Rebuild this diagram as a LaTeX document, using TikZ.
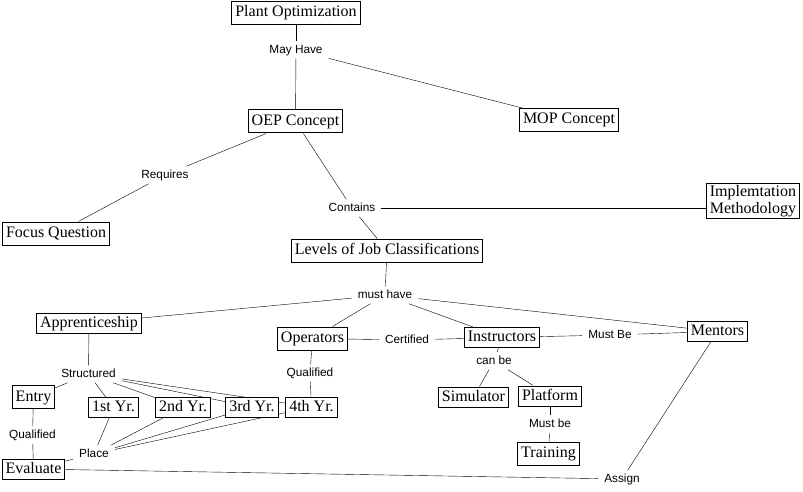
\documentclass[tikz,border=0pt]{standalone}
\usepackage{fontspec}
\setmainfont{Liberation Serif}
\newfontfamily\linkfont{Liberation Sans}
\usetikzlibrary{backgrounds}
\tikzset{
	concept/.style={draw, fill=white, line width=1pt, font=\fontsize{16}{16.5}\selectfont,
		inner xsep=3.5pt, inner ysep=4pt, text height=11.5pt, text depth=3.5pt},
	slim/.style={concept, inner ysep=2.5pt},
	link/.style={font=\linkfont\fontsize{11.8}{14}\selectfont, inner xsep=6pt, inner ysep=3pt,
		text height=8.6pt, text depth=2.5pt},
	conn/.style={line width=1pt}
}

\begin{document}
\begin{tikzpicture}[x=1pt, y=-1pt]
	%%%%% START %%%%%
	\useasboundingbox (0, 0) rectangle (803, 492);
	
	\node[concept] (plant) at (296, 13) {Plant Optimization};
	\node[link] (mayhave) at (296, 50) {May Have};
	\node[concept] (oep) at (295.5, 121.5) {OEP Concept};
	\node[concept] (mop) at (569, 120) {MOP Concept};
	
	\node[link] (requires) at (165, 175) {Requires};
	\node[concept] (focus) at (56, 233.5) {Focus Question};
	\node[link] (contains) at (352, 208) {Contains};
	\node[concept, align=center, text height={}, text depth={}, inner ysep=2pt] (impl) at (753, 201) {Implemtation\\Methodology};
	\node[concept] (levels) at (387, 250.5) {Levels of Job Classifications};
	
	\node[link] (musthave) at (385, 295) {must have};
	\node[slim] (appr) at (89, 323) {Apprenticeship};
	\node[concept] (ops) at (312.5, 338.5) {Operators};
	\node[link] (certified) at (407, 340) {Certified};
	\node[slim] (instr) at (502, 337.5) {Instructors};
	\node[link] (mustbe) at (610, 335) {Must Be};
	\node[slim] (mentors) at (717.5, 331.5) {Mentors};
	
	\node[link] (canbe) at (494, 361) {can be};
	\node[slim] (sim) at (473.5, 397) {Simulator};
	\node[slim] (plat) at (550, 396) {Platform};
	\node[link] (mustbetwo) at (550, 424) {Must be};
	\node[concept] (train) at (548.5, 453.5) {Training};
	
	\node[link] (qualops) at (310, 373) {Qualified};
	\node[link] (structured) at (88.5, 374) {Structured};
	\node[concept] (entry) at (33.5, 397) {Entry};
	\node[slim] (yone) at (113.5, 407.5) {1st Yr.};
	\node[slim] (ytwo) at (183, 407.5) {2nd Yr.};
	\node[slim] (ythree) at (252, 407) {3rd Yr.};
	\node[slim] (yfour) at (311.5, 407) {4th Yr.};
	\node[link] (qualentry) at (32.5, 435) {Qualified};
	\node[link] (place) at (94, 454) {Place};
	\node[slim] (eval) at (33.5, 469) {Evaluate};
	\node[link] (assign) at (622, 479) {Assign};
	
	\begin{scope}[on background layer, conn]
		\draw (plant) -- (mayhave);
		\draw (mayhave) -- (oep);
		\draw (mayhave) -- (mop);
		\draw (oep) -- (requires);
		\draw (requires) -- (focus);
		\draw (oep) -- (contains);
		\draw (contains) -- (contains -| impl.west);
		\draw (contains) -- (levels);
		
		\draw (levels) -- (musthave);
		\draw (musthave) -- (appr);
		\draw (musthave) -- (ops);
		\draw (musthave) -- (instr);
		\draw (musthave) -- (mentors);
		\draw (ops) -- (certified);
		\draw (certified) -- (instr);
		\draw (instr) -- (mustbe);
		\draw (mustbe) -- (mentors);
		
		\draw (instr) -- (canbe);
		\draw (canbe) -- (sim);
		\draw (canbe) -- (plat);
		\draw (plat) -- (mustbetwo);
		\draw (mustbetwo) -- (train);
		
		\draw (ops) -- (qualops);
		\draw (qualops) -- (yfour);
		\draw (appr) -- (structured);
		\draw (structured) -- (entry);
		\draw (structured) -- (yone);
		\draw (structured) -- (ytwo);
		\draw (structured) -- (ythree);
		\draw (structured) -- (yfour);
		\draw (entry) -- (qualentry);
		\draw (qualentry) -- (eval);
		\draw (yone) -- (place);
		\draw (ytwo) -- (place);
		\draw (ythree) -- (place);
		\draw (yfour) -- (place);
		\draw (place) -- (eval);
		\draw (eval) -- (assign);
		\draw (mentors) -- (assign);
	\end{scope}
	
	%%%%% END %%%%%
\end{tikzpicture}
\end{document}
